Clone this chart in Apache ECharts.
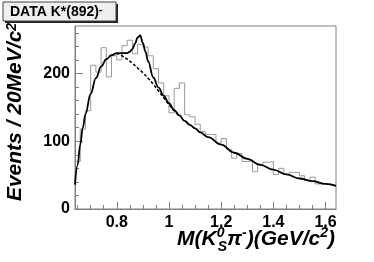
<!DOCTYPE html>
<html><head><meta charset="utf-8">
<script src="https://cdn.jsdelivr.net/npm/echarts@6/dist/echarts.min.js"></script>
<style>html,body{margin:0;padding:0;background:#fff}#c{width:374px;height:262px}</style>
</head><body><div id="c"></div>
<script>
// ---- data ----
const binStart = 0.64;          // GeV/c^2, lower edge of first bin
const binWidth = 0.02;          // 20 MeV bins
const counts = [70,118,145,212,202,238,195,226,220,241,
                249,229,243,239,226,207,186,167,142,178,
                186,139,136,125,114,110,110,97,104,88,
                75,82,70,71,55,66,69,70,51,60,
                51,54,54,49,42,47,37,37,37,35];
const fitMass  = [0.64,0.65,0.66,0.67,0.68,0.70,0.72,0.74,0.76,0.78,0.80,0.82,0.84,0.85,0.86,0.87,0.88,0.89,0.90,0.91,0.92,0.94,0.96,0.98,1.00,1.02,1.04,1.06,1.08,1.10,1.12,1.15,1.20,1.25,1.30,1.35,1.40,1.45,1.50,1.55,1.60,1.64];
const fitTotal = [36,65,95,120,140,170,193,210,221,227,230,230,230,232,236,244,253,256,245,232,218,194,179,167,156,146,138,130,124,119,113,106,95,83,74,65,58,51,45,41,37,34];
const bkgMass   = [0.78,0.80,0.82,0.84,0.86,0.88,0.90,0.92,0.94,0.96,0.98,1.00,1.02,1.04];
const bkgValues = [227,229,226,221,215,208,201,193,184,174,164,154,145,137];
const xMajorTicks = [0.8,1,1.2,1.4,1.6];
const xMinorTicks = [0.65,0.7,0.75,0.85,0.9,0.95,1.05,1.1,1.15,1.25,1.3,1.35,1.45,1.5,1.55];
const yMajorTicks = [0,100,200];
const yMinorTicks = [20,40,60,80,120,140,160,180,220,240,260];
const legendLabel = 'DATA K*(892)';
const yTitle = 'Events / 20MeV/c';

// ---- build ----
const FONT = '"Liberation Sans", Arial, Helvetica, sans-serif';
const xMin = 0.64, xMax = 1.64, yMin = 0, yMax = 270;
const histData = counts.map((c, i) => [+(binStart + i * binWidth).toFixed(4), c]);
histData.push([+(binStart + counts.length * binWidth).toFixed(4), counts[counts.length - 1]]);

const axisGray = '#808080';
const chart = echarts.init(document.getElementById('c'));

// x title pieces, measured so the 0 / S can be stacked
const mctx = document.createElement('canvas').getContext('2d');
function tw(t, s) { mctx.font = 'italic bold ' + s + 'px ' + FONT; return mctx.measureText(t).width; }
const BIG = 21, SMALL = 14, baseY = 247, rightX = 335;
const pieces = [
  [{t:'M(K', s:BIG, dy:0}],
  [{t:'0', s:SMALL, dy:-9}, {t:'S', s:SMALL, dy:5, dx:1}],
  [{t:'\u03c0', s:BIG, dy:0}],
  [{t:'-', s:SMALL, dy:-9}],
  [{t:')(GeV/c', s:BIG, dy:0}],
  [{t:'2', s:SMALL, dy:-9}],
  [{t:')', s:BIG, dy:0}]
];
let total = 0;
const adv = pieces.map(g => Math.max(...g.map(p => tw(p.t, p.s) + (p.dx || 0))));
adv.forEach(a => total += a);
let cx = rightX - total;
const titleEls = [];
pieces.forEach((g, i) => {
  g.forEach(p => {
    titleEls.push({type:'text', x: cx + (p.dx || 0), y: baseY + p.dy - 0.35 * p.s,
      style:{text:p.t, font:'italic bold ' + p.s + 'px ' + FONT, fill:'#000', align:'left', verticalAlign:'middle'}});
  });
  cx += adv[i];
});

chart.setOption({
  animation: false,
  grid: {left:75, right:38, top:26, bottom:53, show:true, borderColor:axisGray, borderWidth:1, backgroundColor:'transparent'},
  xAxis: [
    {type:'value', min:xMin, max:xMax, position:'bottom',
     axisLine:{show:true, lineStyle:{color:axisGray, width:1}},
     axisTick:{show:true, inside:true, length:7, customValues:xMajorTicks, lineStyle:{color:axisGray}},
     axisLabel:{show:true, customValues:xMajorTicks, color:'#000', fontSize:16, fontWeight:'bold', fontFamily:FONT, margin:6},
     splitLine:{show:false}},
    {type:'value', min:xMin, max:xMax, position:'bottom',
     axisLine:{show:false},
     axisTick:{show:true, inside:true, length:4, customValues:xMinorTicks, lineStyle:{color:axisGray}},
     axisLabel:{show:false}, splitLine:{show:false}}
  ],
  yAxis: [
    {type:'value', min:yMin, max:yMax, position:'left',
     axisLine:{show:true, lineStyle:{color:axisGray, width:1}},
     axisTick:{show:true, inside:true, length:8, customValues:yMajorTicks, lineStyle:{color:axisGray}},
     axisLabel:{show:true, customValues:yMajorTicks, color:'#000', fontSize:16, fontWeight:'bold', fontFamily:FONT, margin:5},
     splitLine:{show:false}},
    {type:'value', min:yMin, max:yMax, position:'left',
     axisLine:{show:false},
     axisTick:{show:true, inside:true, length:4, customValues:yMinorTicks, lineStyle:{color:axisGray}},
     axisLabel:{show:false}, splitLine:{show:false}}
  ],
  series: [
    {type:'line', name:'data', data:histData, step:'end', symbol:'none', xAxisIndex:0, yAxisIndex:0,
     lineStyle:{color:'#999999', width:1}, z:2, clip:true},
    {type:'line', name:'background', data:bkgMass.map((m,i)=>[m,bkgValues[i]]), smooth:0.4, symbol:'none',
     lineStyle:{color:'#000', width:1.5, type:[3,2]}, z:3, clip:true},
    {type:'line', name:'fit', data:fitMass.map((m,i)=>[m,fitTotal[i]]), smooth:0.4, smoothMonotone:'x', symbol:'none',
     lineStyle:{color:'#000', width:1.8}, z:4, clip:true}
  ],
  graphic: [
    {type:'rect', shape:{x:5, y:4, width:113, height:19}, style:{fill:'#222'}},
    {type:'rect', shape:{x:3, y:2, width:113, height:19}, style:{fill:'#efefef', stroke:'#444', lineWidth:1}},
    {type:'text', x:10, y:12,
     style:{text:'{a|' + legendLabel + '}{b|-}', align:'left', verticalAlign:'middle',
       rich:{a:{fontSize:14, fontWeight:'bold', fontFamily:FONT, fill:'#000'},
             b:{fontSize:10, fontWeight:'bold', fontFamily:FONT, fill:'#000', verticalAlign:'top'}}}},
    {type:'text', x:15.5, y:112, rotation:Math.PI/2,
     style:{text:'{a|' + yTitle + '}{b|2}', align:'center', verticalAlign:'middle',
       rich:{a:{fontSize:21, fontWeight:'bold', fontStyle:'italic', fontFamily:FONT, fill:'#000'},
             b:{fontSize:14, fontWeight:'bold', fontStyle:'italic', fontFamily:FONT, fill:'#000', verticalAlign:'top'}}}},
    ...titleEls
  ]
});
</script></body></html>
